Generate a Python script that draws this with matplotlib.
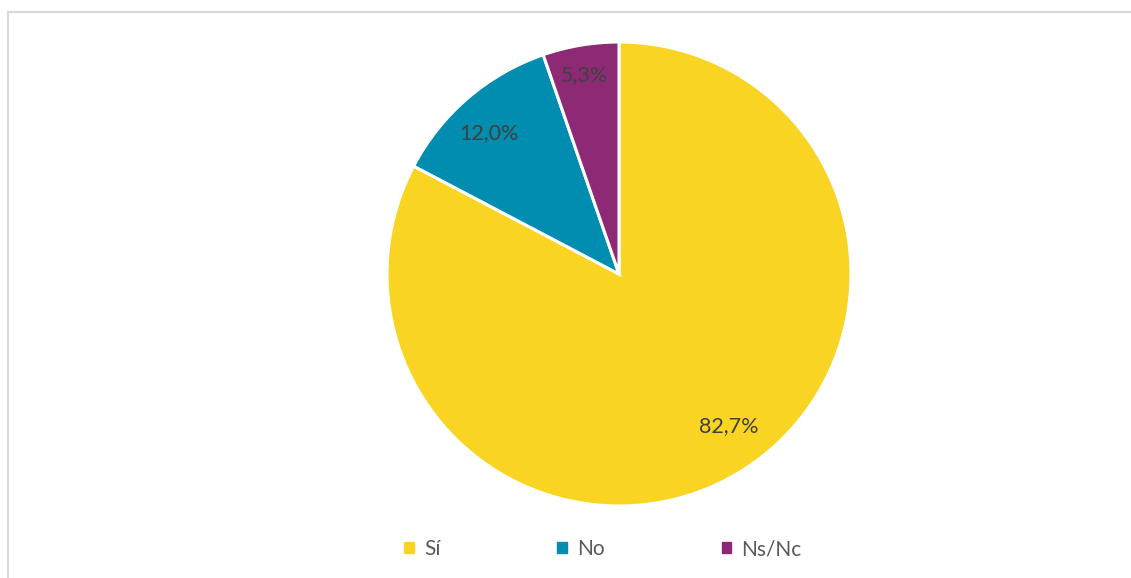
import matplotlib
matplotlib.use("Agg")
import matplotlib.pyplot as plt
from matplotlib.lines import Line2D

categories = ["Sí", "No", "Ns/Nc"]
values = [82.7, 12.0, 5.3]
pct_labels = ["82,7%", "12,0%", "5,3%"]
colors = ["#F9D423", "#008DB0", "#8E2A75"]
# label anchor positions (fraction of radius, x and y)
label_pos = [(0.474, -0.655), (-0.560, 0.608), (-0.151, 0.858)]

plt.rcParams['font.family'] = ['Lato', 'DejaVu Sans']

W, H = 1131, 578
fig = plt.figure(figsize=(W / 100, H / 100), dpi=100)

# frame lines (top and left)
fig.add_artist(Line2D([7.5 / W, 1.0], [1 - 11.5 / H, 1 - 11.5 / H], color="#D9D9D9", lw=1.5))
fig.add_artist(Line2D([7.5 / W, 7.5 / W], [1 - 11.5 / H, 0.0], color="#D9D9D9", lw=1.5))

ax = fig.add_axes([387 / W, (H - 506) / H, 464 / W, 464 / H])
wedges, texts, autotexts = ax.pie(
    values, colors=colors, startangle=90, counterclock=False,
    autopct=lambda p: "", pctdistance=0.83,
    wedgeprops=dict(edgecolor="white", linewidth=2.2))
for at, lab, pos in zip(autotexts, pct_labels, label_pos):
    at.set_text(lab)
    at.set_position(pos)
    at.set_color("#404040")
    at.set_fontsize(15.5)
ax.set_xlim(-1, 1)
ax.set_ylim(-1, 1)
ax.set_aspect("equal")

handles = [plt.Rectangle((0, 0), 1, 1, color=c) for c in colors]
fig.legend(handles, categories, loc="center", bbox_to_anchor=(603 / W, 1 - 549 / H),
           ncol=3, frameon=False, fontsize=15, handlelength=0.45, handleheight=0.45,
           columnspacing=5.6, handletextpad=0.5, labelcolor="#595959")

fig.savefig("out.png", dpi=100)
